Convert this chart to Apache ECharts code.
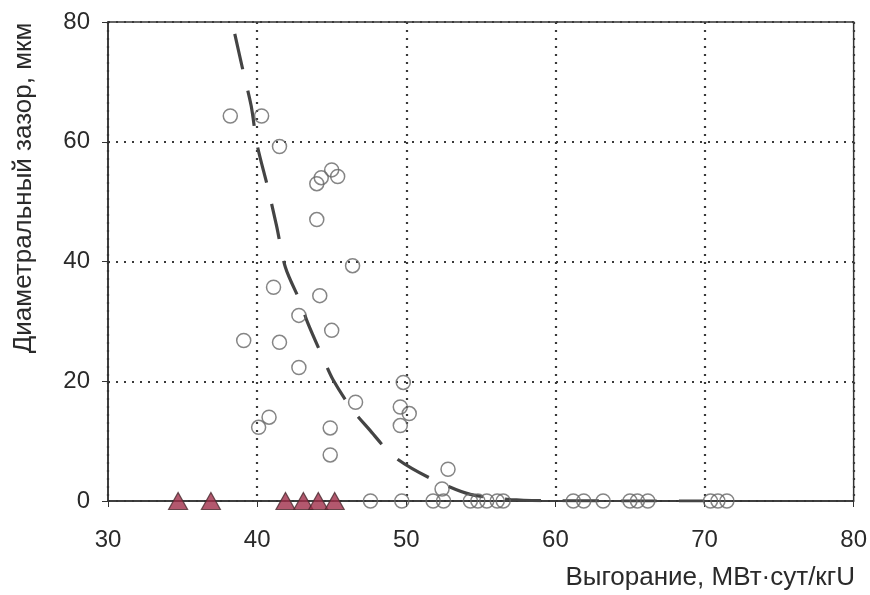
<!DOCTYPE html>
<html>
<head>
<meta charset="utf-8">
<script src="https://cdn.jsdelivr.net/npm/echarts@6/dist/echarts.min.js"></script>
<style>
  html, body { margin: 0; padding: 0; background: #ffffff; }
  #chart { width: 870px; height: 595px; }
</style>
</head>
<body>
<div id="chart"></div>
<script>
// Axis ranges and tick step
const xRange = [30, 80];
const xStep = 10;
const yRange = [0, 80];
const yStep = 20;

// Measured gap: [burnup, gap]
const gapPoints = [
  [38.2, 64.3], [40.3, 64.3], [41.5, 59.2],
  [44.0, 53.0], [44.3, 54.0], [45.0, 55.3], [45.4, 54.2],
  [44.0, 47.0], [46.4, 39.3], [41.1, 35.7], [44.2, 34.3],
  [42.8, 31.0], [45.0, 28.5], [39.1, 26.8], [41.5, 26.5],
  [42.8, 22.3], [46.6, 16.5], [40.8, 14.0], [40.1, 12.3],
  [44.9, 12.2], [44.9, 7.7],
  [49.8, 19.8], [49.6, 15.7], [50.2, 14.6], [49.6, 12.6],
  [52.8, 5.3], [52.4, 2.0],
  [47.6, 0], [49.7, 0], [51.8, 0], [52.5, 0],
  [54.3, 0], [54.8, 0], [55.4, 0], [56.1, 0], [56.5, 0],
  [61.2, 0], [61.9, 0], [63.2, 0],
  [65.0, 0], [65.5, 0], [66.2, 0],
  [70.4, 0], [70.9, 0], [71.5, 0]
];

// Closed-gap points (burnup values, gap = 0)
const closedBurnup = [34.7, 36.9, 41.9, 43.1, 44.1, 45.2];
const closedGap = [0, 0, 0, 0, 0, 0];

// Trend curve
const trendX = [38.5, 39.06, 39.6, 40.0, 40.7, 41.3, 41.9, 42.9, 43.4, 44.4, 45.1, 46.4, 47.5, 49.0, 50.4, 52.3, 54.3, 57.0, 60.0, 66.0, 70.0];
const trendY = [78.0, 71.8, 66.0, 59.5, 52.5, 46.0, 39.0, 33.2, 29.7, 24.0, 20.2, 15.2, 12.0, 7.8, 5.4, 3.0, 1.1, 0.25, 0.05, 0, 0];

const xTitle = 'Выгорание, МВт·сут/кгU';
const yTitle = 'Диаметральный зазор, мкм';

const font = '"Liberation Sans", Arial, sans-serif';
const chart = echarts.init(document.getElementById('chart'), null, { renderer: 'canvas' });

const gridLine = { show: true, lineStyle: { color: '#3a3a3a', width: 2.2, type: [2, 6] } };

chart.setOption({
  backgroundColor: '#ffffff',
  animation: false,
  grid: {
    left: 108, top: 22, right: 16, bottom: 94,
    show: true, borderColor: '#333', borderWidth: 1.5, backgroundColor: 'transparent'
  },
  xAxis: {
    type: 'value', min: xRange[0], max: xRange[1], interval: xStep,
    axisLine: { show: true, lineStyle: { color: '#333', width: 1.5 } },
    axisTick: { show: true, inside: false, length: 6, lineStyle: { color: '#333' } },
    axisLabel: { color: '#2a2a2a', fontSize: 24, fontFamily: font, margin: 27 },
    splitLine: gridLine
  },
  yAxis: {
    type: 'value', min: yRange[0], max: yRange[1], interval: yStep,
    axisLine: { show: true, lineStyle: { color: '#333', width: 1.5 } },
    axisTick: { show: true, inside: false, length: 6, lineStyle: { color: '#333' } },
    axisLabel: { color: '#2a2a2a', fontSize: 24, fontFamily: font, margin: 18 },
    splitLine: gridLine
  },
  graphic: [
    {
      type: 'text', x: 24, y: 188, rotation: Math.PI / 2,
      style: { text: yTitle, fill: '#2a2a2a', font: '26px ' + font, align: 'center', verticalAlign: 'middle' }
    },
    {
      type: 'text', x: 855, y: 578,
      style: { text: xTitle, fill: '#2a2a2a', font: '26px ' + font, align: 'right', verticalAlign: 'middle' }
    }
  ],
  series: [
    {
      type: 'line', name: 'trend',
      data: trendX.map((x, i) => [x, trendY[i]]),
      smooth: 0.3, showSymbol: false, z: 2,
      lineStyle: { color: '#444', width: 3.2, type: [36, 22] }
    },
    {
      type: 'scatter', name: 'gap',
      data: gapPoints, symbol: 'circle', symbolSize: 14, z: 3,
      itemStyle: { color: 'rgba(255,255,255,0)', borderColor: '#666', borderWidth: 1.5 }
    },
    {
      type: 'scatter', name: 'closed',
      data: closedBurnup.map((x, i) => [x, closedGap[i]]),
      symbol: 'triangle', symbolSize: [19, 17], z: 4,
      itemStyle: { color: '#a02e4a', borderColor: '#4a2a30', borderWidth: 1.2 }
    }
  ]
});
</script>
</body>
</html>
